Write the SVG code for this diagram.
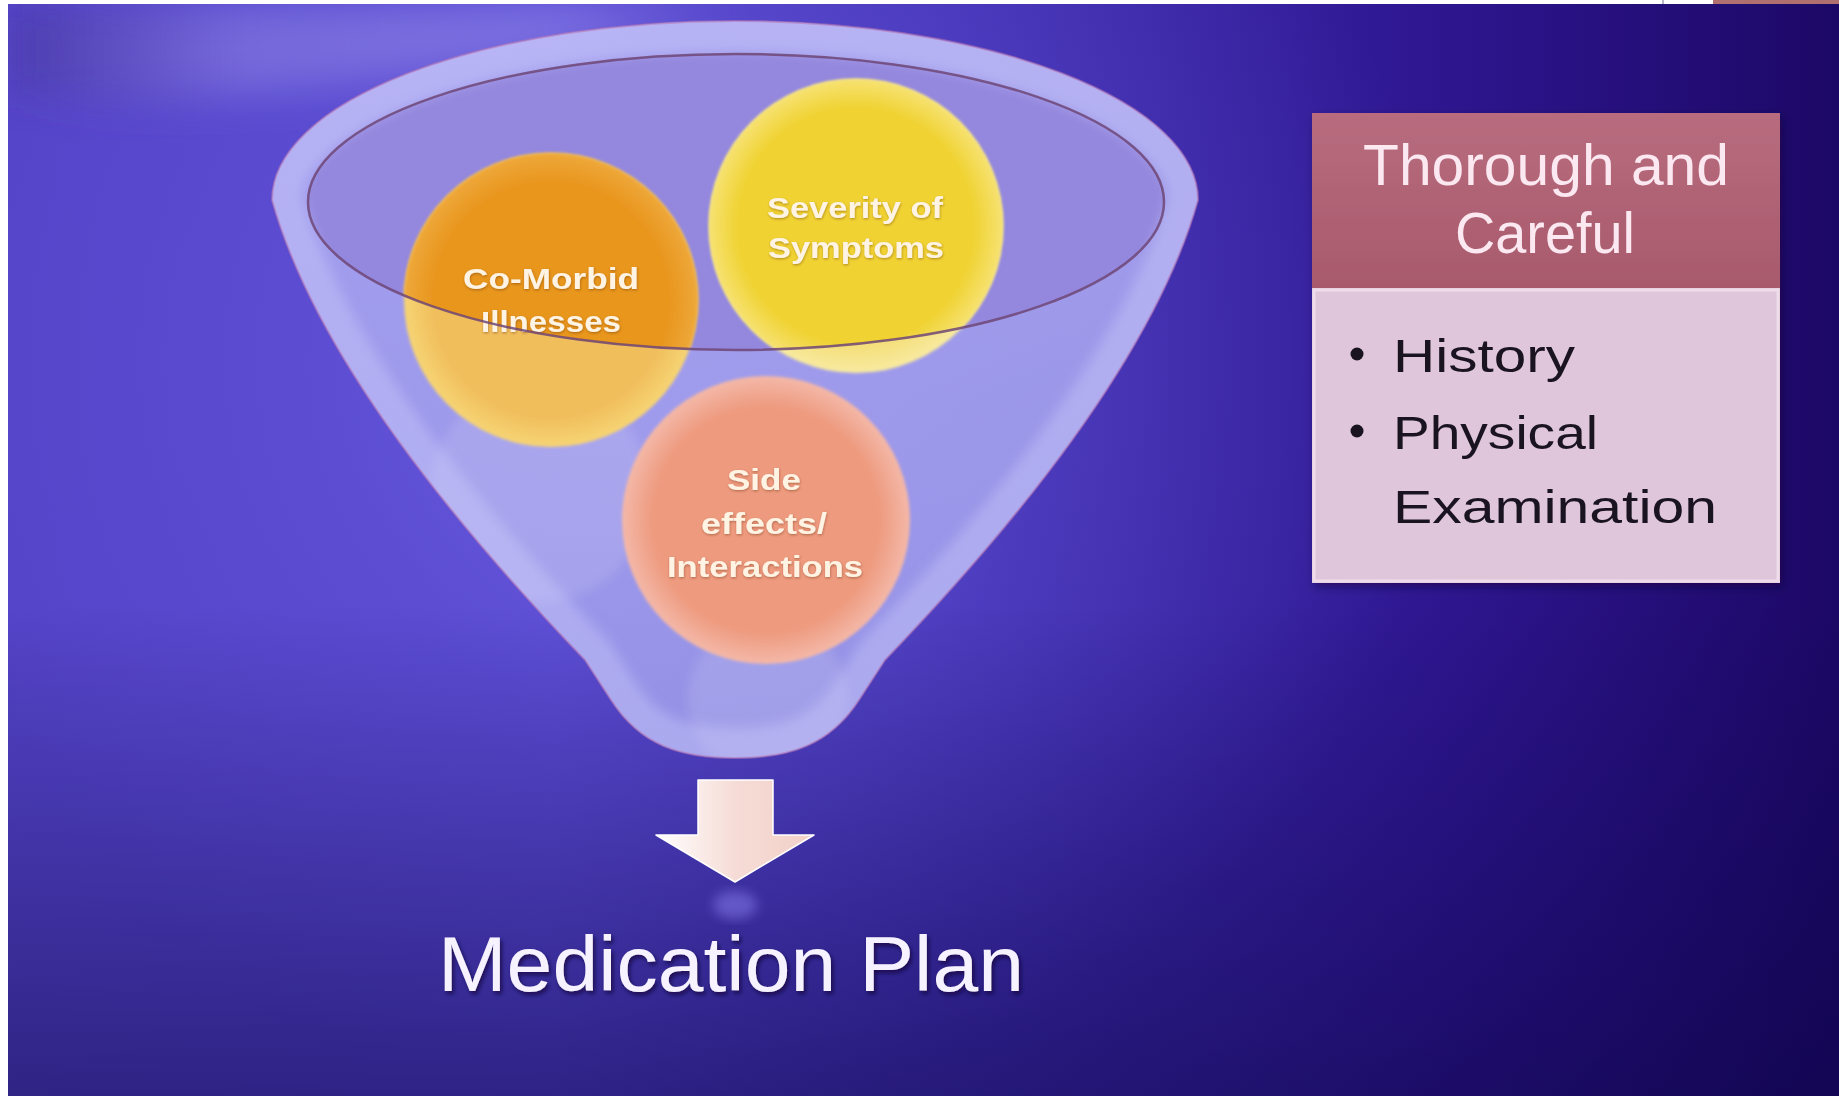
<svg xmlns="http://www.w3.org/2000/svg" width="1839" height="1096" viewBox="0 0 1839 1096">
<style>
.ctext{font-family:"Liberation Sans",Arial,sans-serif;font-weight:bold;font-size:30px;fill:#FFF4E4;text-anchor:middle;}
.head{font-family:"Liberation Sans",Arial,sans-serif;font-size:58px;fill:#FBE8F0;text-anchor:middle;}
.bul{font-family:"Liberation Sans",Arial,sans-serif;font-size:47px;fill:#1A1420;}
.plan{font-family:"Liberation Sans",Arial,sans-serif;font-size:78px;fill:#F6F2FF;text-anchor:middle;}
</style>
<defs>
<linearGradient id="bgx" x1="0" y1="0" x2="1" y2="0">
<stop offset="0" stop-color="#5444C8"/>
<stop offset="0.3" stop-color="#5242CC"/>
<stop offset="0.55" stop-color="#3E2CAE"/>
<stop offset="0.78" stop-color="#2E1690"/>
<stop offset="1" stop-color="#1C0866"/>
</linearGradient>
<linearGradient id="bgy" x1="0" y1="0" x2="0" y2="1">
<stop offset="0" stop-color="#0A0340" stop-opacity="0"/>
<stop offset="0.55" stop-color="#0A0340" stop-opacity="0"/>
<stop offset="1" stop-color="#0A0340" stop-opacity="0.5"/>
</linearGradient>
<radialGradient id="bgglow" cx="680" cy="360" r="760" gradientUnits="userSpaceOnUse">
<stop offset="0" stop-color="#8A80F4" stop-opacity="0.55"/>
<stop offset="0.5" stop-color="#7468E8" stop-opacity="0.25"/>
<stop offset="1" stop-color="#7468E8" stop-opacity="0"/>
</radialGradient>
<linearGradient id="swoosh" x1="0" y1="0" x2="1" y2="0">
<stop offset="0" stop-color="#3A2A80" stop-opacity="0.35"/>
<stop offset="0.3" stop-color="#A098EC" stop-opacity="0.4"/>
<stop offset="0.75" stop-color="#A8A0F4" stop-opacity="0.45"/>
<stop offset="1" stop-color="#A8A0F4" stop-opacity="0"/>
</linearGradient>
<linearGradient id="funnelFill" x1="0" y1="0" x2="0" y2="1">
<stop offset="0" stop-color="#AEAAF2"/>
<stop offset="1" stop-color="#9C9AEA"/>
</linearGradient>
<radialGradient id="gCoIn" cx="0.5" cy="0.5" r="0.5">
<stop offset="0.8" stop-color="#E8961E"/>
<stop offset="1" stop-color="#EEA83A"/>
</radialGradient>
<radialGradient id="gCoOut" cx="0.5" cy="0.5" r="0.5">
<stop offset="0.8" stop-color="#F1BE5C"/>
<stop offset="1" stop-color="#F6D474"/>
</radialGradient>
<radialGradient id="gSevIn" cx="0.5" cy="0.5" r="0.5">
<stop offset="0.8" stop-color="#F0D232"/>
<stop offset="1" stop-color="#F6E272"/>
</radialGradient>
<radialGradient id="gSevOut" cx="0.5" cy="0.5" r="0.5">
<stop offset="0.8" stop-color="#F4DE78"/>
<stop offset="1" stop-color="#F8EAA0"/>
</radialGradient>
<radialGradient id="gSide" cx="0.5" cy="0.5" r="0.5">
<stop offset="0.78" stop-color="#EE9A7E"/>
<stop offset="1" stop-color="#F4B8A8"/>
</radialGradient>
<linearGradient id="arrowFill" x1="0" y1="0" x2="1" y2="0">
<stop offset="0" stop-color="#FFFFFF"/>
<stop offset="0.5" stop-color="#F6DCD6"/>
<stop offset="1" stop-color="#F2D0C8"/>
</linearGradient>
<linearGradient id="headFill" x1="0" y1="0" x2="0" y2="1">
<stop offset="0" stop-color="#B86C7E"/>
<stop offset="1" stop-color="#A85A6C"/>
</linearGradient>
<path id="funnelShape" d="M 272 200 A 463 179 0 0 1 1198 200 Q 1145 390 885 660 L 859 700 C 830 745 790 758 735 758 C 680 758 640 745 611 700 L 585 660 Q 325 390 272 200 Z"/>
<clipPath id="clipFunnel"><use href="#funnelShape"/></clipPath>
<clipPath id="clipInner"><ellipse cx="736" cy="202" rx="428" ry="148"/></clipPath>
<filter id="soft" x="-20%" y="-20%" width="140%" height="140%"><feGaussianBlur stdDeviation="6"/></filter>
<filter id="blur20" x="-50%" y="-50%" width="200%" height="200%"><feGaussianBlur stdDeviation="20"/></filter>
<filter id="edge" x="-5%" y="-5%" width="110%" height="110%"><feGaussianBlur stdDeviation="1.5"/></filter>
<filter id="tshadow" x="-10%" y="-30%" width="120%" height="160%"><feDropShadow dx="0.5" dy="1.2" stdDeviation="1" flood-color="#5A2A10" flood-opacity="0.4"/></filter>
<filter id="pshadow" x="-10%" y="-30%" width="120%" height="160%"><feDropShadow dx="2" dy="3" stdDeviation="2" flood-color="#0A0430" flood-opacity="0.7"/></filter>
<filter id="boxshadow" x="-10%" y="-10%" width="120%" height="120%"><feDropShadow dx="3" dy="4" stdDeviation="4" flood-color="#0A0430" flood-opacity="0.5"/></filter>
</defs>

<g id="background">
<rect x="0" y="0" width="1839" height="1096" fill="url(#bgx)"/>
<rect x="0" y="0" width="1839" height="1096" fill="url(#bgglow)"/>
<rect x="0" y="0" width="1839" height="1096" fill="url(#bgy)"/>
<path d="M 8 4 L 760 4 C 640 40 420 82 220 96 C 130 102 60 98 8 92 Z" fill="url(#swoosh)" filter="url(#blur20)"/>
<rect x="0" y="0" width="1713" height="4" fill="#FFFFFF"/>
<rect x="1713" y="0" width="126" height="4" fill="#B07070"/>
<rect x="1662" y="0" width="2" height="4" fill="#B8B8C8"/>
<rect x="0" y="0" width="8" height="1096" fill="#FFFFFF"/>
</g>

<g id="funnel">
<use href="#funnelShape" fill="url(#funnelFill)" fill-opacity="0.9"/>
<ellipse cx="736" cy="202" rx="428" ry="148" fill="#9488DE"/>
<g clip-path="url(#clipFunnel)">
<g opacity="0.12" filter="url(#soft)">
<circle cx="540" cy="492" r="110" fill="#FFFFFF"/>
<circle cx="768" cy="700" r="80" fill="#FFFFFF"/>
</g>
</g>
</g>

<g id="node-comorbid">
<circle cx="551" cy="300" r="147" fill="url(#gCoOut)" filter="url(#edge)"/>
<circle cx="551" cy="300" r="147" fill="url(#gCoIn)" clip-path="url(#clipInner)" filter="url(#edge)"/>
<text class="ctext" filter="url(#tshadow)"><tspan x="551" y="289" textLength="176" lengthAdjust="spacingAndGlyphs">Co-Morbid</tspan><tspan x="551" y="332" textLength="140" lengthAdjust="spacingAndGlyphs">Illnesses</tspan></text>
</g>

<g id="node-severity">
<circle cx="856" cy="226" r="147" fill="url(#gSevOut)" filter="url(#edge)"/>
<circle cx="856" cy="226" r="147" fill="url(#gSevIn)" clip-path="url(#clipInner)" filter="url(#edge)"/>
<text class="ctext" filter="url(#tshadow)"><tspan x="855" y="218" textLength="176" lengthAdjust="spacingAndGlyphs">Severity of</tspan><tspan x="856" y="258" textLength="176" lengthAdjust="spacingAndGlyphs">Symptoms</tspan></text>
</g>

<g id="node-side">
<circle cx="766" cy="520" r="144" fill="url(#gSide)" filter="url(#edge)"/>
<text class="ctext" filter="url(#tshadow)"><tspan x="764" y="490" textLength="74" lengthAdjust="spacingAndGlyphs">Side</tspan><tspan x="764" y="534" textLength="126" lengthAdjust="spacingAndGlyphs">effects/</tspan><tspan x="765" y="577" textLength="196" lengthAdjust="spacingAndGlyphs">Interactions</tspan></text>
</g>

<g id="funnel-front">
<use href="#funnelShape" fill="none" stroke="#D4D4FF" stroke-opacity="0.35" stroke-width="60" clip-path="url(#clipFunnel)" filter="url(#soft)"/>
<ellipse cx="736" cy="202" rx="428" ry="148" fill="none" stroke="#6E4676" stroke-opacity="0.85" stroke-width="2.5"/>
<use href="#funnelShape" fill="none" stroke="#B478B8" stroke-opacity="0.6" stroke-width="2"/>
</g>

<g id="connectors">
<ellipse cx="735" cy="905" rx="22" ry="14" fill="#8C80F0" opacity="0.5" filter="url(#soft)"/>
<polygon points="698,780 773,780 773,835 814,835 735,882 656,835 698,835" fill="url(#arrowFill)" stroke="#FFFFFF" stroke-width="1.5" stroke-linejoin="round"/>
</g>

<g id="node-medication-plan">
<text class="plan" x="731" y="991" textLength="586" lengthAdjust="spacingAndGlyphs" filter="url(#pshadow)">Medication Plan</text>
</g>

<g id="node-thorough">
<g filter="url(#boxshadow)">
<rect x="1312" y="113" width="468" height="175" fill="url(#headFill)"/>
<rect x="1312" y="288" width="468" height="295" fill="#E0C6DA"/>
</g>
<rect x="1314" y="290" width="464" height="291" fill="none" stroke="#EEDCEA" stroke-width="3"/>
<text class="head"><tspan x="1546" y="185" textLength="366" lengthAdjust="spacingAndGlyphs">Thorough and</tspan><tspan x="1545" y="253" textLength="180" lengthAdjust="spacingAndGlyphs">Careful</tspan></text>
<circle cx="1357" cy="354" r="6.5" fill="#1A1420"/>
<circle cx="1357" cy="431" r="6.5" fill="#1A1420"/>
<text class="bul"><tspan x="1393" y="372" textLength="182" lengthAdjust="spacingAndGlyphs">History</tspan><tspan x="1393" y="449" textLength="205" lengthAdjust="spacingAndGlyphs">Physical</tspan><tspan x="1393" y="523" textLength="324" lengthAdjust="spacingAndGlyphs">Examination</tspan></text>
</g>
</svg>
